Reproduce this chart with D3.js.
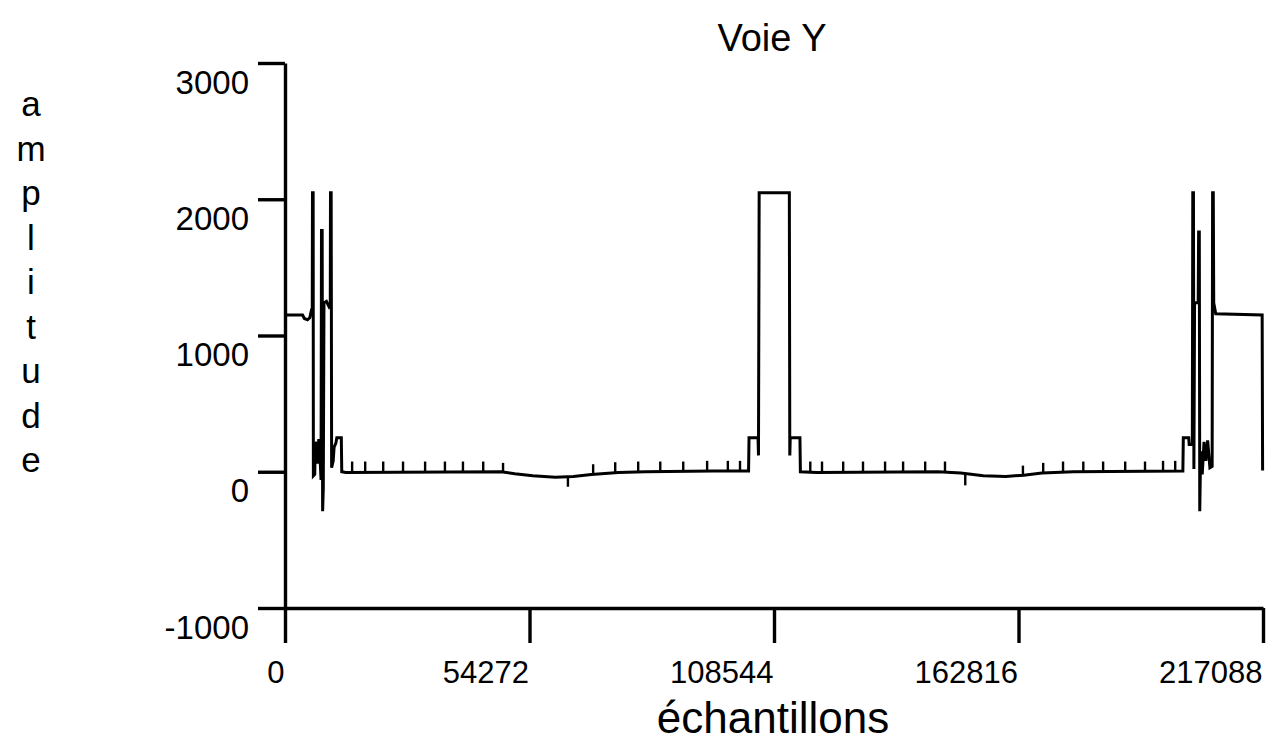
<!DOCTYPE html>
<html>
<head>
<meta charset="utf-8">
<script src="https://cdn.jsdelivr.net/npm/d3@7"></script>
<style>
  body { margin: 0; background: #fff; }
  text { font-family: "Liberation Sans", Arial, Helvetica, sans-serif; fill: #000; }
</style>
</head>
<body>
<div id="chart"></div>
<script>
// signal: sample index / amplitude (step trace)
var sampleIdx = [0, 3900, 4300, 5000, 5500, 5900, 6050, 6100, 6250, 6300, 6600, 6700, 7000, 7200, 7500, 7800,
  8000, 8100, 8250, 8350, 8500, 8650, 9200, 9800, 10050, 10100, 10250, 10350, 10700, 10900, 11300, 11500,
  12500, 12600, 13500, 48000, 51000, 55000, 60000, 64000, 68000, 74000, 80000, 95000, 102900,
  103000, 105000, 105100, 105250, 111950, 112050, 112150, 114300, 114400, 118000, 145000, 150000,
  155000, 160000, 164000, 168000, 175000, 199300, 199400, 200600, 200700, 201400, 201500, 201650,
  201750, 201900, 202700, 202800, 202950, 203050, 203250, 203600, 204000, 204400, 204800, 205300,
  205800, 205900, 206050, 206150, 206600, 216900, 217000];
var amplitude = [1150, 1150, 1125, 1115, 1130, 1190, 1200, 2047, 2047, -30, -20, 160, 220, 60, 240, 90,
  -60, 1770, 1770, -290, -120, 1240, 1250, 1210, 1220, 2047, 2047, 30, 80, 180, 210, 250,
  250, 0, -5, 0, -15, -30, -40, -35, -20, -5, 0, 5, 5,
  250, 250, 120, 2047, 2047, 120, 250, 250, 0, -5, 0, -10,
  -30, -35, -25, -10, 0, 5, 250, 250, 200, 200, 2047, 2047,
  20, 1240, 1240, 1760, 1760, -290, 150, -20, 220, 80, 230, 30,
  40, 2047, 2047, 1240, 1160, 1150, 10];

// small marker blips along the baseline
var markerIdx = [14900, 17800, 21800, 26200, 31100, 35500, 39500, 44000, 48400, 62800, 68400, 73300, 78400,
  83300, 88400, 93700, 98300, 101000, 116600, 119200, 123900, 128300, 133200, 137200, 142100, 146500,
  151000, 163800, 168300, 172700, 177200, 181600, 186500, 190900, 194900, 197600];
var markerBase = [0, 0, 0, 0, 0, 0, 0, 0, -5, -40, -20, -5, 0,
  0, 0, 5, 5, 5, 0, 0, 0, 0, 0, 0, 0, 0,
  -10, -30, -10, 0, 0, 0, 0, 0, 5, 5];
var markerTop = [75, 75, 75, 75, 75, 75, 75, 75, 65, -110, 55, 70, 75,
  75, 75, 80, 80, 80, 75, 75, 75, 75, 75, 75, 75, 75,
  -100, 45, 65, 75, 75, 75, 75, 75, 80, 80];

var xTicks = [0, 54272, 108544, 162816, 217088];
var yTicks = [-1000, 0, 1000, 2000, 3000];
var chartTitle = "Voie Y";
var xTitle = "échantillons";
var yTitle = "amplitude";

var W = 1279, H = 756;
var margin = {t: 63, r: 16, b: 148, l: 285};

var svg = d3.select("#chart").append("svg")
    .attr("width", W)
    .attr("height", H);

var x = d3.scaleLinear().domain([0, 217088]).range([margin.l, W - margin.r]);
var y = d3.scaleLinear().domain([-1000, 3000]).range([H - margin.b, margin.t]);

// y axis
var yAxis = d3.axisLeft(y).tickValues(yTicks).tickSize(27).tickSizeOuter(0).tickPadding(9)
    .tickFormat(function(d) { return String(d); });
var gy = svg.append("g")
    .attr("transform", "translate(" + margin.l + ",0)")
    .call(yAxis);
gy.selectAll("text").attr("dy", 30).style("font-size", "33px");

// x axis
var xAxis = d3.axisBottom(x).tickValues(xTicks).tickSize(35).tickSizeOuter(0)
    .tickFormat(function(d) { return String(d); });
var gx = svg.append("g")
    .attr("transform", "translate(0," + y(-1000) + ")")
    .call(xAxis);
gx.selectAll("text")
    .attr("text-anchor", "end")
    .attr("x", -1)
    .attr("y", 75)
    .attr("dy", 0)
    .style("font-size", "31px");

svg.selectAll(".domain, .tick line")
    .attr("stroke", "#000")
    .attr("stroke-width", 3.4);

// signal trace
var pts = sampleIdx.map(function(d, i) { return [d, amplitude[i]]; });
var line = d3.line()
    .x(function(d) { return x(d[0]); })
    .y(function(d) { return y(d[1]); });

svg.append("path")
    .datum(pts)
    .attr("d", line)
    .attr("fill", "none")
    .attr("stroke", "#000")
    .attr("stroke-width", 3)
    .attr("stroke-linejoin", "miter");

svg.selectAll(".marker")
    .data(markerIdx)
    .enter()
    .append("path")
    .attr("class", "marker")
    .attr("d", function(d, i) { return line([[d, markerBase[i]], [d, markerTop[i]]]); })
    .attr("stroke", "#000")
    .attr("stroke-width", 2.4);

// titles
svg.append("text")
    .attr("x", 772)
    .attr("y", 51)
    .attr("text-anchor", "middle")
    .style("font-size", "38px")
    .text(chartTitle);

svg.append("text")
    .attr("x", 773)
    .attr("y", 733)
    .attr("text-anchor", "middle")
    .style("font-size", "44px")
    .text(xTitle);

// y title, one letter under another
svg.append("g").selectAll("text")
    .data(yTitle.split(""))
    .enter()
    .append("text")
    .attr("x", 31)
    .attr("y", function(d, i) { return 116 + i * 44.5; })
    .attr("text-anchor", "middle")
    .style("font-size", "35px")
    .text(function(d) { return d; });
</script>
</body>
</html>
